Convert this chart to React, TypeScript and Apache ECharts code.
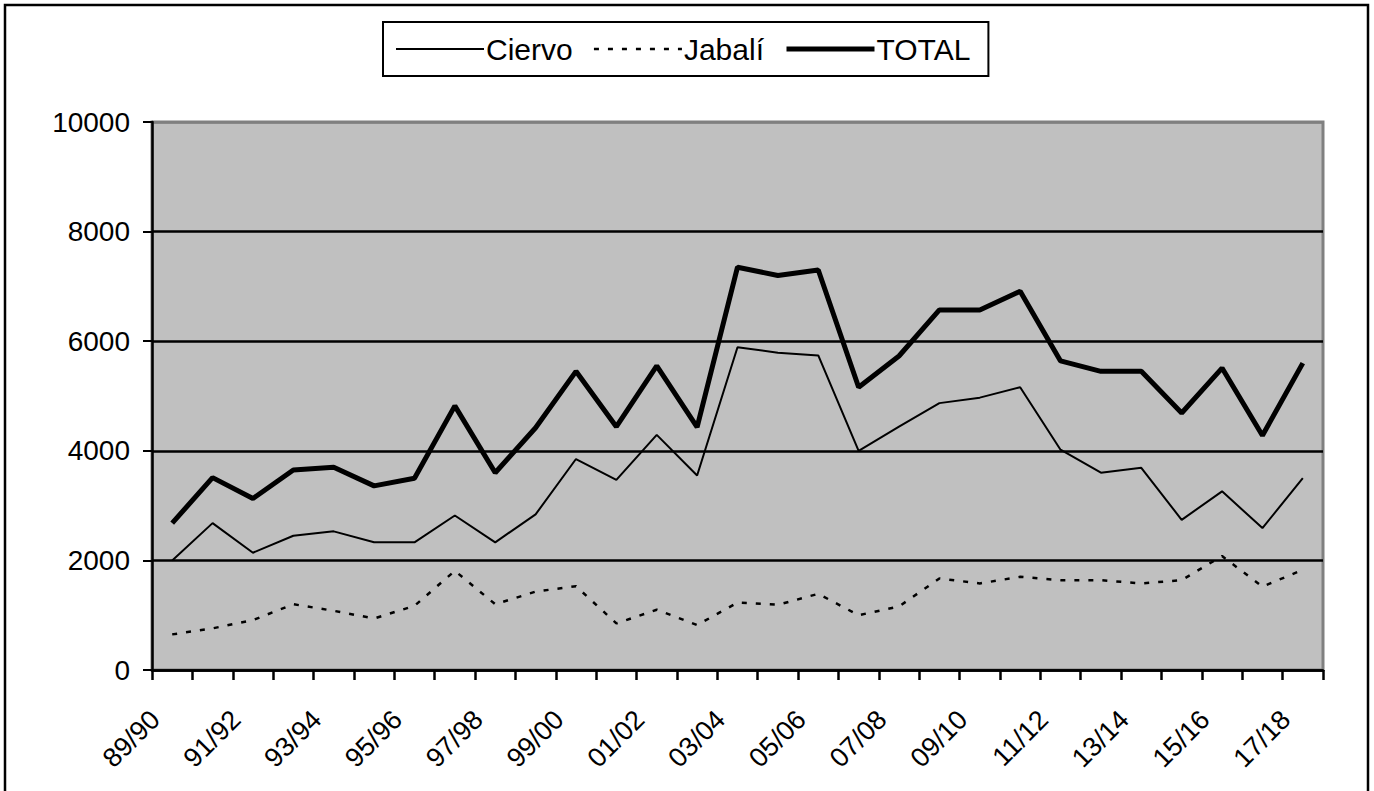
import React, { useEffect, useRef } from "react";
import * as echarts from "echarts";

const categories = [
  "89/90", "90/91", "91/92", "92/93", "93/94", "94/95", "95/96", "96/97", "97/98", "98/99",
  "99/00", "00/01", "01/02", "02/03", "03/04", "04/05", "05/06", "06/07", "07/08", "08/09",
  "09/10", "10/11", "11/12", "12/13", "13/14", "14/15", "15/16", "16/17", "17/18",
];
const ciervo = [
  2000, 2680, 2140, 2450, 2530, 2330, 2330, 2820, 2330, 2840,
  3850, 3470, 4290, 3550, 5890, 5790, 5740, 4000, 4440, 4870,
  4970, 5160, 4020, 3600, 3690, 2740, 3260, 2590, 3500,
];
const jabali = [
  650, 760, 910, 1200, 1080, 940, 1170, 1810, 1200, 1430,
  1530, 850, 1100, 820, 1230, 1190, 1390, 1000, 1160, 1670,
  1580, 1700, 1640, 1640, 1580, 1640, 2080, 1520, 1830,
];
const total = [
  2680, 3510, 3130, 3650, 3700, 3360, 3500, 4820, 3600, 4420,
  5450, 4440, 5550, 4430, 7350, 7200, 7300, 5160, 5730, 6570,
  6570, 6910, 5640, 5450, 5450, 4690, 5510, 4280, 5600,
];
const seriesNames = ["Ciervo", "Jabalí", "TOTAL"];

const FONT = "'Liberation Sans', Arial, sans-serif";

export default function App() {
  const ref = useRef<HTMLDivElement>(null);
  useEffect(() => {
    document.body.style.margin = "0";
    const chart = echarts.init(ref.current!, null, { renderer: "svg" });
    chart.setOption({
      animation: false,
      backgroundColor: "#ffffff",
      textStyle: { fontFamily: FONT, color: "#000" },
      graphic: [
        {
          type: "rect",
          shape: { x: 5, y: 5, width: 1363, height: 800 },
          style: { fill: "none", stroke: "#000", lineWidth: 2.5 },
          silent: true,
        },
      ],
      legend: {
        data: [
          { name: seriesNames[0] },
          { name: seriesNames[1] },
          { name: seriesNames[2] },
        ],
        left: 383,
        top: 22,
        padding: [12, 18, 12, 12],
        itemGap: 20,
        itemWidth: 88,
        itemHeight: 14,
        borderColor: "#000",
        borderWidth: 2,
        borderRadius: 0,
        backgroundColor: "#fff",
        itemStyle: { opacity: 0 },
        lineStyle: { width: "inherit", type: "inherit", color: "inherit" },
        textStyle: { fontSize: 30, color: "#000", fontFamily: FONT, padding: [0, 0, 0, -3] },
      },
      grid: {
        left: 152,
        top: 122,
        right: 51,
        bottom: 121,
        show: true,
        backgroundColor: "#c0c0c0",
        borderColor: "#808080",
        borderWidth: 3,
      },
      xAxis: {
        type: "category",
        data: categories,
        boundaryGap: true,
        axisLine: { show: true, lineStyle: { color: "#000", width: 2.5 } },
        axisTick: { show: true, interval: 0, inside: false, length: 10, lineStyle: { color: "#000", width: 2.5 } },
        axisLabel: {
          interval: 1,
          rotate: 45,
          fontSize: 27,
          color: "#000",
          fontFamily: FONT,
          margin: 28,
          padding: [0, 24, 0, 0],
        },
        splitLine: { show: false },
      },
      yAxis: {
        type: "value",
        min: 0,
        max: 10000,
        interval: 2000,
        axisLine: { show: true, lineStyle: { color: "#000", width: 2.5 } },
        axisTick: { show: true, inside: false, length: 9, lineStyle: { color: "#000", width: 2 } },
        axisLabel: {
          fontSize: 28,
          color: "#000",
          fontFamily: FONT,
          margin: 22,
          formatter: (v: number) => String(v),
        },
        splitLine: {
          show: true,
          lineStyle: { color: ["#000", "#000", "#000", "#000", "#000", "#808080"], width: 2.5 },
        },
      },
      series: [
        {
          name: seriesNames[0],
          type: "line",
          data: ciervo,
          symbol: "none",
          lineStyle: { color: "#000", width: 2, type: "solid" },
          itemStyle: { color: "#000" },
        },
        {
          name: seriesNames[1],
          type: "line",
          data: jabali,
          symbol: "none",
          lineStyle: { color: "#000", width: 2.5, type: [5, 9] },
          itemStyle: { color: "#000" },
        },
        {
          name: seriesNames[2],
          type: "line",
          data: total,
          symbol: "none",
          lineStyle: { color: "#000", width: 5, type: "solid" },
          itemStyle: { color: "#000" },
        },
      ],
    });
    return () => chart.dispose();
  }, []);
  return <div ref={ref} style={{ width: 1374, height: 791 }} />;
}
